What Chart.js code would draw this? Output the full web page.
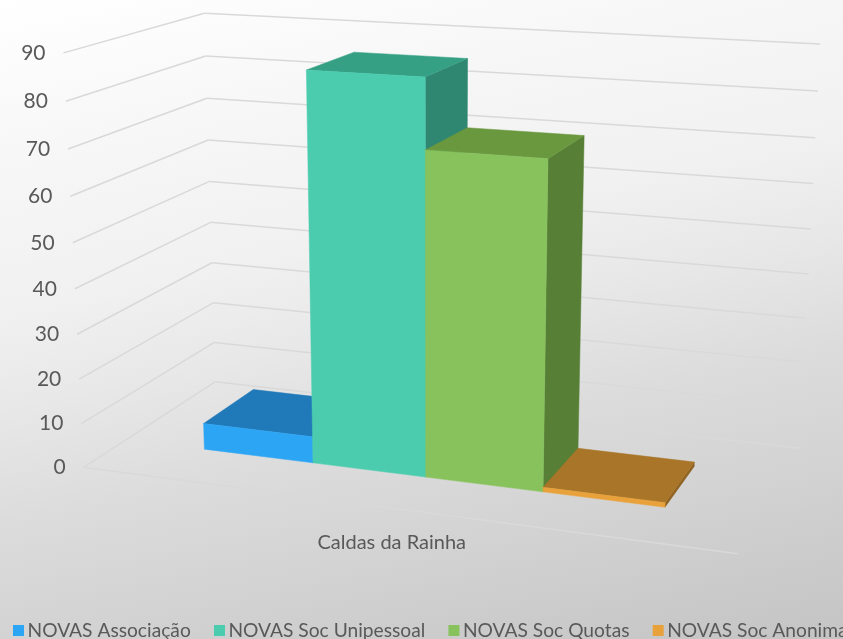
<!DOCTYPE html>
<html>
<head>
<meta charset="utf-8">
<style>
html, body { margin: 0; padding: 0; width: 843px; height: 639px; overflow: hidden; }
body { background: linear-gradient(168deg, #ffffff 0%, #f6f6f6 22%, #f1f1f1 38%, #e8e8e8 50%, #dcdcdc 64%, #d3d3d3 78%, #c4c4c4 100%); }
canvas { display: block; }
</style>
<script src="https://cdn.jsdelivr.net/npm/chart.js@4/dist/chart.umd.min.js"></script>
</head>
<body>
<canvas id="myChart" width="843" height="639"></canvas>
<script>
const categories = ['Caldas da Rainha'];
const seriesNames = ['NOVAS Associação', 'NOVAS Soc Unipessoal', 'NOVAS Soc Quotas', 'NOVAS Soc Anonima'];
const associacao = [6];
const unipessoal = [86];
const quotas = [71];
const anonima = [1];
const frontColors = ['#2da5f5', '#4bccae', '#87c25c', '#e9a23b'];
const topColors = ['#2079b8', '#36a085', '#6a983f', '#a97528'];
const sideColors = ['#1b659a', '#2f8771', '#578036', '#8f6322'];
const yMax = 90;
const yStep = 10;

const fontName = 'Lato, sans-serif';
const textColor = '#595959';
const gridColor = '#d9d9d9';
const depthFront = 0.3;
const depthBack = 0.7;

// box corners -> where they land on the page (world x, value, depth)
const calibration = [
	[0, 0, 0, 84, 467],
	[1, 0, 0, 738, 554],
	[0, 0, 1, 215, 382],
	[1, 0, 1, 800, 448],
	[0, 1, 0, 63, 53],
	[0, 1, 1, 205, 13],
	[1, 1, 1, 820, 44]
];

function solveCamera(points) {
	const n = 11;
	const ata = [];
	const atb = new Array(n).fill(0);
	for (let i = 0; i < n; i++) ata.push(new Array(n).fill(0));
	points.forEach(([x, y, z, u, v]) => {
		[[[x, y, z, 1, 0, 0, 0, 0, -u * x, -u * y, -u * z], u],
		 [[0, 0, 0, 0, x, y, z, 1, -v * x, -v * y, -v * z], v]].forEach(([row, b]) => {
			for (let i = 0; i < n; i++) {
				atb[i] += row[i] * b;
				for (let j = 0; j < n; j++) ata[i][j] += row[i] * row[j];
			}
		});
	});
	for (let c = 0; c < n; c++) {
		let best = c;
		for (let r = c + 1; r < n; r++) if (Math.abs(ata[r][c]) > Math.abs(ata[best][c])) best = r;
		[ata[c], ata[best]] = [ata[best], ata[c]];
		[atb[c], atb[best]] = [atb[best], atb[c]];
		for (let r = 0; r < n; r++) {
			if (r === c) continue;
			const f = ata[r][c] / ata[c][c];
			for (let k = c; k < n; k++) ata[r][k] -= f * ata[c][k];
			atb[r] -= f * atb[c];
		}
	}
	return atb.map((b, i) => b / ata[i][i]);
}

const cam = solveCamera(calibration);

function project(x, y, z) {
	const w = cam[8] * x + cam[9] * y + cam[10] * z + 1;
	return [
		(cam[0] * x + cam[1] * y + cam[2] * z + cam[3]) / w,
		(cam[4] * x + cam[5] * y + cam[6] * z + cam[7]) / w
	];
}

function face(ctx, color, pts) {
	ctx.fillStyle = color;
	ctx.strokeStyle = color;
	ctx.lineWidth = 0.5;
	ctx.beginPath();
	pts.forEach((p, i) => i ? ctx.lineTo(p[0], p[1]) : ctx.moveTo(p[0], p[1]));
	ctx.closePath();
	ctx.fill();
	ctx.stroke();
}

function line(ctx, a, b) {
	ctx.beginPath();
	ctx.moveTo(a[0], a[1]);
	ctx.lineTo(b[0], b[1]);
	ctx.stroke();
}

const bars3d = {
	id: 'bars3d',
	beforeDatasetsDraw(chart) {
		const ctx = chart.ctx;
		const area = chart.chartArea;
		const scaleY = chart.scales.y;
		const toX = (px) => (px - area.left) / area.width;
		const toY = (px) => (area.bottom - px) / area.height;

		ctx.save();

		// walls
		ctx.strokeStyle = gridColor;
		ctx.lineWidth = 1.5;
		scaleY.ticks.forEach((t) => {
			const y = toY(scaleY.getPixelForValue(t.value));
			line(ctx, project(0, y, 0), project(0, y, 1));
			line(ctx, project(0, y, 1), project(1, y, 1));
		});
		line(ctx, project(0, 0, 0), project(1, 0, 0));

		// value labels follow the slanted front edge
		ctx.fillStyle = textColor;
		ctx.font = '21px ' + fontName;
		ctx.textAlign = 'right';
		ctx.textBaseline = 'middle';
		scaleY.ticks.forEach((t) => {
			const p = project(0, toY(scaleY.getPixelForValue(t.value)), 0);
			ctx.fillText(String(t.value), p[0] - 18, p[1]);
		});

		// bars, left to right so the nearer one covers the side of the previous
		chart.data.datasets.forEach((ds, i) => {
			chart.getDatasetMeta(i).data.forEach((bar) => {
				const x0 = toX(bar.x - bar.width / 2);
				const x1 = toX(bar.x + bar.width / 2);
				const y0 = toY(bar.base);
				const y1 = toY(bar.y);
				const d0 = depthFront;
				const d1 = depthBack;
				face(ctx, sideColors[i], [project(x1, y0, d0), project(x1, y0, d1), project(x1, y1, d1), project(x1, y1, d0)]);
				face(ctx, topColors[i], [project(x0, y1, d0), project(x1, y1, d0), project(x1, y1, d1), project(x0, y1, d1)]);
				face(ctx, ds.backgroundColor, [project(x0, y0, d0), project(x1, y0, d0), project(x1, y1, d0), project(x0, y1, d0)]);
			});
		});

		// category label
		const scaleX = chart.scales.x;
		const base = project(toX(scaleX.getPixelForTick(0)), 0, 0);
		ctx.fillStyle = textColor;
		ctx.font = '20px ' + fontName;
		ctx.textAlign = 'center';
		ctx.textBaseline = 'middle';
		ctx.fillText(categories[0], base[0] - 1, base[1] + 34);

		// legend runs off the right edge of the picture, as in the original
		ctx.font = '19.2px ' + fontName;
		ctx.textAlign = 'left';
		ctx.textBaseline = 'alphabetic';
		let lx = 13;
		chart.data.datasets.forEach((ds) => {
			ctx.fillStyle = ds.backgroundColor;
			ctx.fillRect(lx, 625, 11, 11);
			ctx.fillStyle = textColor;
			ctx.fillText(ds.label, lx + 14.5, 637);
			lx += 15 + ctx.measureText(ds.label).width + 22.7;
		});

		ctx.restore();
		return false;
	}
};

new Chart(document.getElementById('myChart'), {
	type: 'bar',
	data: {
		labels: categories,
		datasets: [associacao, unipessoal, quotas, anonima].map((values, i) => ({
			label: seriesNames[i],
			data: values,
			backgroundColor: frontColors[i]
		}))
	},
	options: {
		responsive: false,
		animation: false,
		layout: { padding: 0 },
		categoryPercentage: 0.73,
		barPercentage: 1,
		plugins: { legend: { display: false }, tooltip: { enabled: false } },
		scales: {
			x: { display: false },
			y: { display: false, min: 0, max: yMax, ticks: { stepSize: yStep } }
		}
	},
	plugins: [bars3d]
});
</script>
</body>
</html>
